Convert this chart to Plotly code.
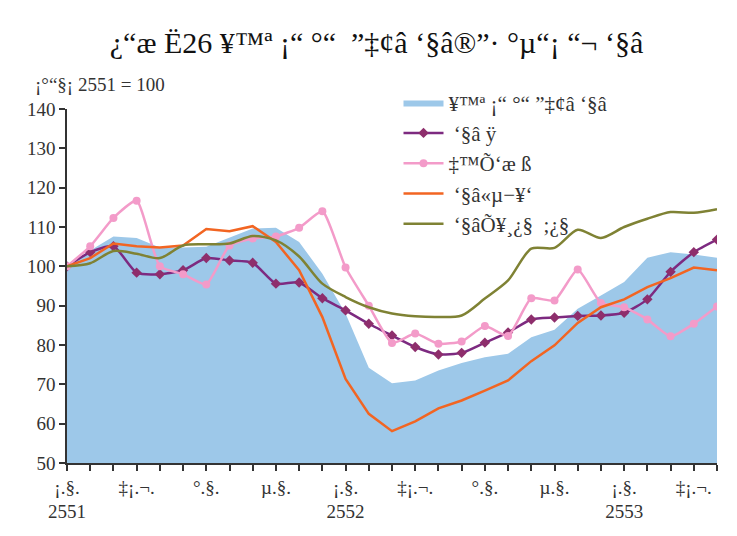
import plotly.graph_objects as go

# months Jan 2551 .. May 2553 (29 points)
months = list(range(29))
tick_labels = ["¡.§.<br>2551", "", "", "‡¡.¬.", "", "", "°.§.", "", "", "µ.§.", "", "",
               "¡.§.<br>2552", "", "", "‡¡.¬.", "", "", "°.§.", "", "", "µ.§.", "", "",
               "¡.§.<br>2553", "", "", "‡¡.¬.", ""]

total_index = [100, 104.0, 107.6, 107.2, 104.8, 104.8, 105.0, 107.3, 109.6, 109.8,
               106.2, 98.1, 88.0, 74.2, 70.3, 71.0, 73.5, 75.4, 76.9, 77.8,
               82.0, 83.9, 89.2, 92.6, 96.0, 102.2, 103.6, 103.0, 102.2]
series_purple = [100, 103.6, 105.1, 98.4, 98.0, 99.0, 102.1, 101.5, 100.9, 95.6,
                 95.9, 91.9, 88.8, 85.4, 82.4, 79.5, 77.6, 78.0, 80.6, 83.2,
                 86.5, 87.0, 87.4, 87.5, 88.2, 91.6, 98.6, 103.6, 106.8]
series_pink = [100, 105.1, 112.3, 116.7, 100.0, 98.0, 95.4, 105.3, 107.1, 107.6,
               109.8, 114.0, 99.7, 90.0, 80.5, 82.9, 80.3, 80.9, 84.8, 82.3,
               91.9, 91.3, 99.2, 90.7, 89.6, 86.5, 82.2, 85.4, 89.8]
series_orange = [100, 102.1, 105.8, 105.1, 104.8, 105.3, 109.5, 108.9, 110.2, 106.2,
                 99.0, 87.1, 71.4, 62.5, 58.1, 60.6, 63.9, 65.9, 68.4, 71.0,
                 75.9, 79.9, 85.6, 89.6, 91.6, 94.7, 97.0, 99.7, 99.0]
series_olive = [100, 100.8, 103.9, 103.2, 102.1, 105.3, 105.6, 105.8, 107.7, 106.6,
                102.5, 95.6, 92.2, 89.6, 88.0, 87.3, 87.1, 87.5, 91.8, 96.4,
                104.5, 104.7, 109.3, 107.2, 110.0, 112.1, 113.8, 113.6, 114.5]

names = ["¥™ª ¡“ °“ ”‡¢â ‘§â", " ‘§â ÿ", "‡™Õ‘æ ß", " ‘§â«µ−¥‘", " ‘§âÕ¥¸¿§  ;¿§"]
title_text = "¿“æ Ë26 ¥™ª ¡“ °“  ”‡¢â ‘§â®”· °µ“¡ “¬ ‘§â"
yaxis_note = "¡°“§¡ 2551 = 100"

FONT = "Liberation Serif, DejaVu Serif Condensed, DejaVu Serif, serif"

fig = go.Figure()
fig.add_trace(go.Scatter(x=months, y=total_index, name=names[0], mode="lines",
                         line=dict(width=0, color="#9DC8E9"), fill="tozeroy",
                         fillcolor="#9DC8E9"))
fig.add_trace(go.Scatter(x=months, y=series_purple, name=names[1], mode="lines+markers",
                         line=dict(color="#7D2A80", width=2.5, shape="spline", smoothing=0.6),
                         marker=dict(symbol="diamond", size=8, color="#8E2E6C")))
fig.add_trace(go.Scatter(x=months, y=series_pink, name=names[2], mode="lines+markers",
                         line=dict(color="#F39BC9", width=2.5, shape="spline", smoothing=0.5),
                         marker=dict(symbol="circle", size=8, color="#F39BC9")))
fig.add_trace(go.Scatter(x=months, y=series_orange, name=names[3], mode="lines",
                         line=dict(color="#F26522", width=2.5)))
fig.add_trace(go.Scatter(x=months, y=series_olive, name=names[4], mode="lines",
                         line=dict(color="#7F8234", width=2.5, shape="spline", smoothing=0.8)))

fig.update_layout(
    width=737, height=536,
    margin=dict(l=59, r=28, t=101, b=81),
    paper_bgcolor="white", plot_bgcolor="white",
    font=dict(family=FONT, size=19, color="#222"),
    title=dict(text=title_text, x=0.5, xanchor="center", y=0.935, yanchor="middle",
               font=dict(family=FONT, size=30, color="#111")),
    showlegend=True,
    legend=dict(x=0.51, y=1.075, xanchor="left", yanchor="top",
                bgcolor="rgba(0,0,0,0)", font=dict(family=FONT, size=21, color="#333"),
                tracegroupgap=0, itemwidth=40),
    xaxis=dict(range=[0, 28], tickmode="array", tickvals=months, ticktext=tick_labels,
               showgrid=False, zeroline=False, showline=True, linecolor="#333", linewidth=1.5,
               ticks="outside", ticklen=6, tickcolor="#333", tickwidth=1.5,
               tickfont=dict(family=FONT, size=19, color="#333"), tickangle=0),
    yaxis=dict(range=[50, 140], tickvals=[50, 60, 70, 80, 90, 100, 110, 120, 130, 140],
               showgrid=False, zeroline=False, showline=True, linecolor="#333", linewidth=1.5,
               ticks="outside", ticklen=6, tickcolor="#333", tickwidth=1.5,
               tickfont=dict(family=FONT, size=19, color="#333")),
    annotations=[dict(text=yaxis_note, xref="paper", yref="paper", x=-0.053, y=1.035,
                      xanchor="left", yanchor="bottom", showarrow=False,
                      font=dict(family=FONT, size=19, color="#333"))],
)

fig.write_html("out.html")
